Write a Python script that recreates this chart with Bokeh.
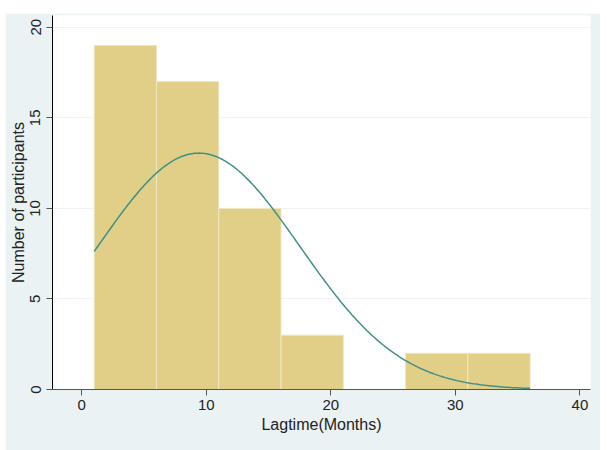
import numpy as np
from bokeh.plotting import figure
from bokeh.models import Range1d, FixedTicker, Spacer
from bokeh.layouts import row, column
from bokeh.embed import file_html
from bokeh.resources import INLINE

# Histogram data (bin width 5 months, starting at 1)
bin_left = [1, 6, 11, 16, 21, 26, 31]
bin_right = [6, 11, 16, 21, 26, 31, 36]
counts = [19, 17, 10, 3, 0, 2, 2]

# Fitted normal curve parameters
fit_mean = 9.4
fit_sd = 8.1
n_total = sum(counts)
bin_width = 5

x_ticks = [0, 10, 20, 30, 40]
y_ticks = [0, 5, 10, 15, 20]

BG = "#eaf2f3"
FONT = "Liberation Sans"

p = figure(width=595, height=437, output_backend="svg", toolbar_location=None,
           x_range=Range1d(-2.35, 40.85), y_range=Range1d(0, 20.65),
           min_border_left=47, min_border_right=10, min_border_top=2, min_border_bottom=61)
p.background_fill_color = "white"
p.border_fill_color = BG
p.outline_line_color = None

p.quad(left=bin_left, right=bin_right, bottom=0, top=counts,
       fill_color="#e1cf88", line_color="#f0e7c2", line_width=1)

xs = np.linspace(min(bin_left), max(bin_right), 300)
ys = n_total * bin_width / (fit_sd * np.sqrt(2 * np.pi)) * np.exp(-0.5 * ((xs - fit_mean) / fit_sd) ** 2)
p.line(xs, ys, line_color="#3f9088", line_width=1.5)

p.xaxis.ticker = FixedTicker(ticks=x_ticks)
p.yaxis.ticker = FixedTicker(ticks=y_ticks)
p.xaxis.minor_tick_line_color = None
p.yaxis.minor_tick_line_color = None
p.xaxis.axis_label = "Lagtime(Months)"
p.yaxis.axis_label = "Number of participants"
p.yaxis.major_label_orientation = "vertical"

for ax in (p.xaxis, p.yaxis):
    ax.major_label_text_font = FONT
    ax.major_label_text_font_size = "15px"
    ax.major_label_text_color = "#222222"
    ax.axis_label_text_font = FONT
    ax.axis_label_text_font_size = "16px"
    ax.axis_label_text_font_style = "normal"
    ax.axis_label_text_color = "#222222"
    ax.major_tick_out = 6
    ax.major_tick_in = 0
    ax.axis_label_standoff = 3
    ax.major_label_standoff = 4

p.yaxis.major_label_standoff = 6
p.yaxis.axis_label_standoff = 1

p.xaxis.axis_line_color = "#555555"
p.xaxis.major_tick_line_color = "#555555"
p.yaxis.axis_line_color = "black"
p.yaxis.major_tick_line_color = "#555555"

p.xgrid.grid_line_color = None
p.ygrid.grid_line_color = "#eef3f4"
p.ygrid.grid_line_width = 1

layout = row(Spacer(width=5, height=450), column(Spacer(width=595, height=13), p))

open("out.html", "w").write(file_html(layout, INLINE))
